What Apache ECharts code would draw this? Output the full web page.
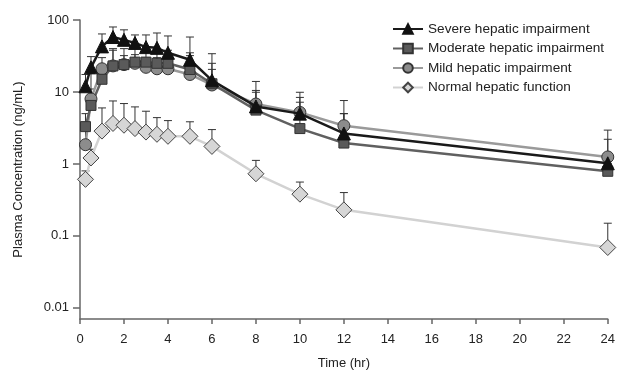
<!DOCTYPE html>
<html>
<head>
<meta charset="utf-8">
<script src="https://cdn.jsdelivr.net/npm/echarts@6/dist/echarts.min.js"></script>
<style>
  html, body { margin: 0; padding: 0; background: #fff; }
  #chart { width: 618px; height: 375px; }
</style>
</head>
<body>
<div id="chart"></div>
<script>
var times = [0.25, 0.5, 1, 1.5, 2, 2.5, 3, 3.5, 4, 5, 6, 8, 10, 12, 24];

var severeMean  = [12, 22, 43, 58, 53, 48, 42, 41, 35, 28, 14.5, 6.3, 5.0, 2.65, 1.02];
var severeUpper = [17.5, 31, 64, 80, 73, 62, 62, 66, 60, 58, 34, 14, 9.9, 7.6, 2.95];

var moderateMean  = [3.3, 6.5, 15, 23, 24, 26, 26, 25, 25, 20.5, 13, 5.6, 3.1, 1.95, 0.79];
var moderateUpper = [5, 11, 22, 40, 40, 40, 36, 38, 38, 35, 25, 9.9, 7.2, 5.0, 1.0];

var mildMean  = [1.85, 8.0, 21, 23, 24, 25, 22, 21, 21, 17.5, 12.5, 6.8, 5.2, 3.4, 1.25];
var mildUpper = [3, 18, 30, 38, 32, 33, 30, 30, 29, 32, 20.6, 10.5, 8.4, 5.0, 2.2];

var normalMean  = [0.61, 1.21, 2.86, 3.65, 3.45, 3.1, 2.77, 2.58, 2.42, 2.42, 1.75, 0.73, 0.38, 0.23, 0.069];
var normalUpper = [0.8, 1.6, 6.0, 7.5, 6.9, 6.2, 5.4, 4.4, 4.0, 3.85, 3.0, 1.12, 0.56, 0.40, 0.15];

var yTicks = [0.01, 0.1, 1, 10, 100];

function pairs(mean) {
  return times.map(function (t, i) { return [t, mean[i]]; });
}
function errData(mean, upper) {
  return times.map(function (t, i) { return [t, mean[i], upper[i]]; });
}

// upper error bar with a small cap
function renderErr(params, api) {
  var p = api.coord([api.value(0), api.value(1)]);
  var h = api.coord([api.value(0), api.value(2)]);
  var w = 4;
  return {
    type: 'group',
    children: [
      { type: 'line', shape: { x1: p[0], y1: p[1], x2: h[0], y2: h[1] },
        style: { stroke: '#333', lineWidth: 1 } },
      { type: 'line', shape: { x1: h[0] - w, y1: h[1], x2: h[0] + w, y2: h[1] },
        style: { stroke: '#333', lineWidth: 1 } }
    ]
  };
}

function errSeries(id, mean, upper) {
  return {
    type: 'custom',
    name: id,
    renderItem: renderErr,
    data: errData(mean, upper),
    encode: { x: 0, y: [1, 2] },
    z: 1,
    silent: true
  };
}

var chart = echarts.init(document.getElementById('chart'));

var option = {
  animation: false,
  backgroundColor: '#fff',
  textStyle: { fontFamily: 'Liberation Sans, Arial, sans-serif' },
  grid: { left: 80, right: 9, top: 20, bottom: 45, containLabel: false },
  legend: {
    orient: 'vertical',
    left: 387,
    top: 17,
    itemWidth: 30,
    itemHeight: 12,
    itemGap: 5.5,
    data: ['Severe hepatic impairment', 'Moderate hepatic impairment',
           'Mild hepatic impairment', 'Normal hepatic function'],
    textStyle: { fontSize: 13.6, color: '#222', fontFamily: 'Liberation Sans, Arial, sans-serif' }
  },
  xAxis: {
    type: 'value',
    min: 0,
    max: 24,
    interval: 2,
    name: 'Time (hr)',
    nameLocation: 'middle',
    nameGap: 38,
    nameTextStyle: { fontSize: 13, color: '#222' },
    axisLine: { lineStyle: { color: '#666', width: 1.5 } },
    axisTick: { length: 5, lineStyle: { color: '#666', width: 1.5 } },
    axisLabel: { fontSize: 13, color: '#222', margin: 14 },
    splitLine: { show: false }
  },
  yAxis: {
    type: 'log',
    logBase: 10,
    min: 0.007,
    max: 100,
    name: 'Plasma Concentration (ng/mL)',
    nameLocation: 'middle',
    nameGap: 55,
    nameTextStyle: { fontSize: 13, color: '#222' },
    axisLine: { show: true, lineStyle: { color: '#666', width: 1.5 } },
    axisTick: { show: true, length: 7, customValues: yTicks, lineStyle: { color: '#666', width: 1.5 } },
    axisLabel: {
      fontSize: 13, color: '#222', margin: 11, customValues: yTicks,
      formatter: function (v) { return String(+v.toPrecision(3)); }
    },
    splitLine: { show: false },
    minorTick: { show: false }
  },
  series: [
    errSeries('errNormal', normalMean, normalUpper),
    errSeries('errMild', mildMean, mildUpper),
    errSeries('errModerate', moderateMean, moderateUpper),
    errSeries('errSevere', severeMean, severeUpper),
    {
      name: 'Normal hepatic function',
      type: 'line',
      data: pairs(normalMean),
      symbol: 'diamond',
      symbolSize: 16,
      z: 2,
      lineStyle: { color: '#d2d2d2', width: 2.5 },
      itemStyle: { color: '#d6d6d6', borderColor: '#444', borderWidth: 1 }
    },
    {
      name: 'Mild hepatic impairment',
      type: 'line',
      data: pairs(mildMean),
      symbol: 'circle',
      symbolSize: 12,
      z: 3,
      lineStyle: { color: '#9a9a9a', width: 2.5 },
      itemStyle: { color: '#8c8c8c', borderColor: '#333', borderWidth: 1 }
    },
    {
      name: 'Moderate hepatic impairment',
      type: 'line',
      data: pairs(moderateMean),
      symbol: 'rect',
      symbolSize: 10,
      z: 3,
      lineStyle: { color: '#606060', width: 2.5 },
      itemStyle: { color: '#5a5a5a', borderColor: '#333', borderWidth: 1 }
    },
    {
      name: 'Severe hepatic impairment',
      type: 'line',
      data: pairs(severeMean),
      symbol: 'triangle',
      symbolSize: 13,
      z: 4,
      lineStyle: { color: '#1a1a1a', width: 2.5 },
      itemStyle: { color: '#111', borderColor: '#111', borderWidth: 1 }
    }
  ]
};

chart.setOption(option);
</script>
</body>
</html>
